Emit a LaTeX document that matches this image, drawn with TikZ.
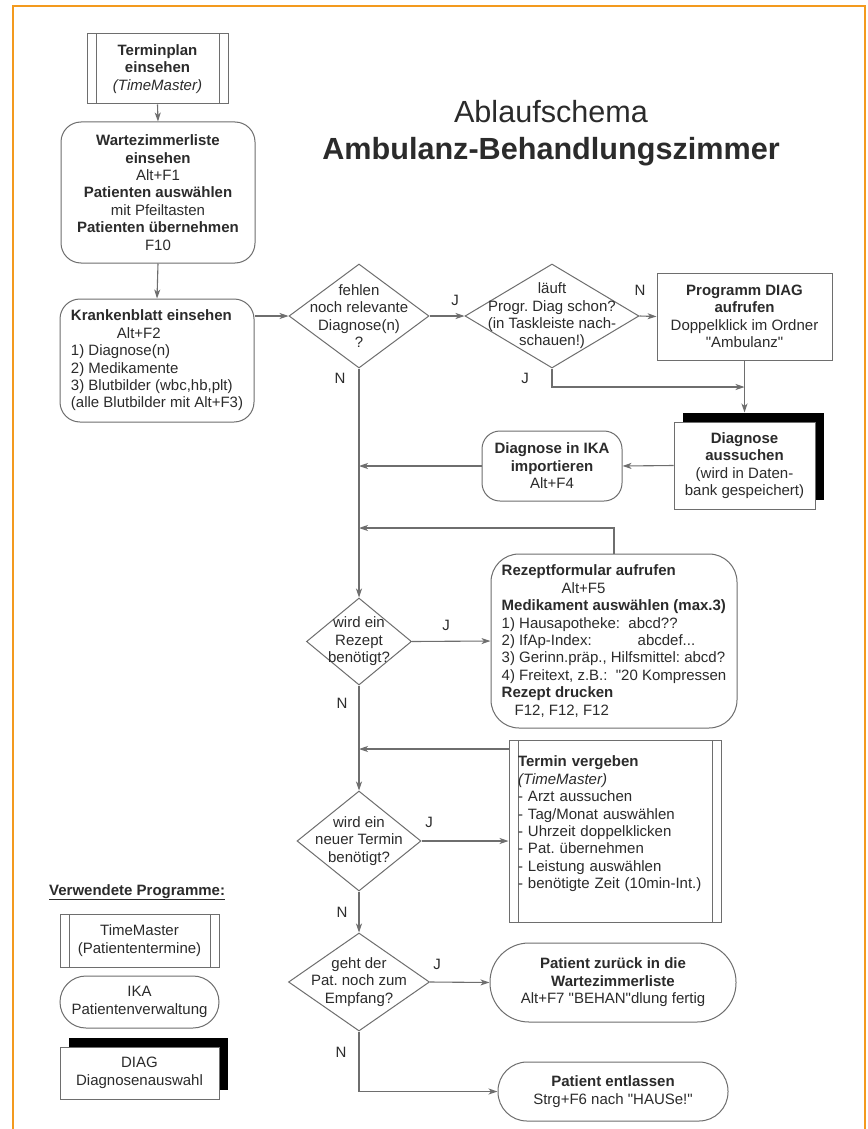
\documentclass[tikz,border=0pt]{standalone}
\usepackage{fontspec}
\setmainfont{Liberation Sans}[Ligatures=TeXOff]
\usetikzlibrary{shapes.geometric,arrows.meta,shadows}
\definecolor{frameor}{HTML}{F39A1E}
\definecolor{lin}{HTML}{6E6E6E}
\definecolor{txt}{HTML}{2B2B2B}
\frenchspacing
\begin{document}
\begin{tikzpicture}[x=1pt,y=-1pt,
  every node/.style={font=\fontsize{15}{17.4}\selectfont\frenchspacing, text=txt, inner sep=0pt},
  box/.style={draw=lin, line width=1pt, fill=white, align=center},
  tmbox/.style={box, path picture={
     \draw[lin, line width=1pt] ([xshift=9pt]path picture bounding box.north west) -- ([xshift=9pt]path picture bounding box.south west);
     \draw[lin, line width=1pt] ([xshift=-9pt]path picture bounding box.north east) -- ([xshift=-9pt]path picture bounding box.south east);}},
  diagbox/.style={box, drop shadow={shadow xshift=9pt, shadow yshift=9pt, fill=black, opacity=1}},
  dia/.style={diamond, draw=lin, line width=1pt, fill=white, inner sep=0pt},
  dtext/.style={align=center},
  arr/.style={draw=lin, line width=1.1pt, -{Stealth[length=9pt,width=6pt,inset=2.5pt]}},
  lab/.style={}
]
\fill[white] (0,0) rectangle (867,1129);
\useasboundingbox (0,0) rectangle (867,1129);
\draw[frameor, line width=2.5pt] (13,1129) -- (13,6) -- (865,6) -- (865,1129);

% title
\node[font=\fontsize{30.6}{37}\selectfont, align=center] (title) at (551,133.5) {Ablaufschema\\\textbf{Ambulanz-Behandlungszimmer}};

% left column
\node[tmbox, minimum width=141pt, minimum height=70pt] (tp) at (157.5,69) {\textbf{Terminplan}\\\textbf{einsehen}\\\textit{(TimeMaster)}};
\node[box, rounded corners=20pt, minimum width=194pt, minimum height=141pt] (wz) at (158,192.5) {\textbf{Wartezimmerliste}\\\textbf{einsehen}\\Alt+F1\\\textbf{Patienten auswählen}\\mit Pfeiltasten\\\textbf{Patienten übernehmen}\\F10};
\node[box, rounded corners=20pt, align=left, minimum width=194pt, minimum height=123pt] (kb) at (157,360.5) {\textbf{Krankenblatt einsehen}\\\hspace*{46pt}Alt+F2\\1) Diagnose(n)\\2) Medikamente\\3) Blutbilder (wbc,hb,plt)\\(alle Blutbilder mit Alt+F3)};

% diamonds
\node[dia, minimum width=140pt, minimum height=104pt] (q1) at (359,316) {};
\node[dtext] (q1t) at (q1.center) {fehlen\\noch relevante\\Diagnose(n)\\?};
\node[dia, minimum width=174pt, minimum height=104pt] (q2) at (552,316) {};
\node[dtext] (q2t) at (q2.center) {läuft\\Progr. Diag schon?\\(in Taskleiste nach-\\schauen!)};
\node[dia, minimum width=105pt, minimum height=87pt] (q3) at (359,641.5) {};
\node[dtext] (q3t) at (q3.center) {wird ein\\Rezept\\benötigt?};
\node[dia, minimum width=124pt, minimum height=100pt] (q4) at (359,841) {};
\node[dtext] (q4t) at (q4.center) {wird ein\\neuer Termin\\benötigt?};
\node[dia, minimum width=141pt, minimum height=98pt] (q5) at (359,982) {};
\node[dtext] (q5t) at (q5.center) {geht der\\Pat. noch zum\\Empfang?};

% right column
\node[box, minimum width=175pt, minimum height=87pt] (pd) at (744.5,316.5) {\textbf{Programm DIAG}\\\textbf{aufrufen}\\Doppelklick im Ordner\\"Ambulanz"};
\node[diagbox, minimum width=141pt, minimum height=87pt] (dg) at (744.5,465.5) {\textbf{Diagnose}\\\textbf{aussuchen}\\(wird in Daten-\\bank gespeichert)};
\node[box, rounded corners=18pt, minimum width=140pt, minimum height=70pt] (ika) at (552,466) {\textbf{Diagnose in IKA}\\\textbf{importieren}\\Alt+F4};
\node[box, rounded corners=28pt, align=left, minimum width=246pt, minimum height=174pt] (rz) at (614,641) {\textbf{Rezeptformular aufrufen}\\\hspace*{60pt}Alt+F5\\\textbf{Medikament auswählen (max.3)}\\1) Hausapotheke:\ \ abcd??\\\makebox[136pt][l]{2) IfAp-Index:}abcdef...\\3) Gerinn.präp., Hilfsmittel: abcd?\\4) Freitext, z.B.:\ \ "20 Kompressen\\\textbf{Rezept drucken}\\\hspace*{13pt}F12, F12, F12};
\node[tmbox, align=left, text width=194pt, minimum width=212pt, minimum height=182pt] (tm) at (615,831) {\textbf{Termin vergeben}\\\textit{(TimeMaster)}\\- Arzt aussuchen\\- Tag/Monat auswählen\\- Uhrzeit doppelklicken\\- Pat. übernehmen\\- Leistung auswählen\\- benötigte Zeit (10min-Int.)\\\mbox{}};
\node[box, rounded corners=39pt, minimum width=246pt, minimum height=79pt] (pz) at (613,982.5) {\textbf{Patient zurück in die}\\\textbf{Wartezimmerliste}\\Alt+F7 "BEHAN"dlung fertig};
\node[box, rounded corners=29pt, minimum width=230pt, minimum height=59pt] (pe) at (613,1091.5) {\textbf{Patient entlassen}\\Strg+F6 nach "HAUSe!"};

% legend
\node[anchor=base west] (lgh) at (49,895) {\textbf{\underline{Verwendete Programme:}}};
\node[tmbox, minimum width=159pt, minimum height=53pt] (lg1) at (139.5,940.5) {TimeMaster\\(Patiententermine)};
\node[box, rounded corners=26pt, minimum width=159pt, minimum height=52pt] (lg2) at (139.5,1002) {IKA\\Patientenverwaltung};
\node[diagbox, minimum width=159pt, minimum height=52pt] (lg3) at (139.5,1073) {DIAG\\Diagnosenauswahl};

% coordinates
\coordinate (c1) at (744.5,387);
\coordinate (c2) at (359,528);
\coordinate (c3) at (359,749);

% connectors
\draw[arr] (tp.south) -- (wz.north);
\draw[arr] (wz.south) -- (kb.north);
\draw[arr] (q1.west -| kb.east) -- (q1.west);
\draw[arr] (q1.east) -- (q2.west);
\draw[arr] (q2.east) -- (pd.west);
\draw[arr] (q2.south) |- (c1);
\draw[arr] (pd.south) -- ([yshift=9pt]dg.north);
\draw[arr] (dg.west) -- (ika.east);
\draw[arr] (ika.west) -- (ika.west -| q1.south);
\draw[arr] (q1.south) -- (q3.north);
\draw[arr] (rz.north) |- (c2);
\draw[arr] (q3.east) -- (rz.west);
\draw[arr] (q3.south) -- (q4.north);
\draw[arr] (tm.west |- c3) -- (c3);
\draw[arr] (q4.east) -- (q4.east -| tm.west);
\draw[arr] (q4.south) -- (q5.north);
\draw[arr] (q5.east) -- (pz.west);
\draw[arr] (q5.south) |- (pe.west);

% labels
\node[lab] (l1) at (455,300) {J};
\node[lab] (l2) at (640,290) {N};
\node[lab] (l3) at (525,378) {J};
\node[lab] (l4) at (340,378) {N};
\node[lab] (l5) at (446,625) {J};
\node[lab] (l6) at (342,703) {N};
\node[lab] (l7) at (429,822) {J};
\node[lab] (l8) at (342,912) {N};
\node[lab] (l9) at (437,964) {J};
\node[lab] (l10) at (341,1052) {N};
\end{tikzpicture}
\end{document}
